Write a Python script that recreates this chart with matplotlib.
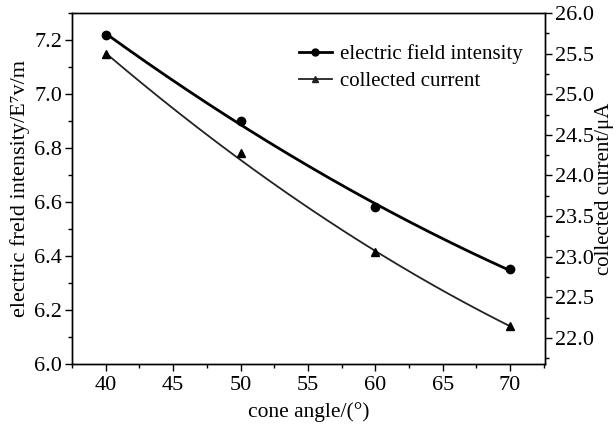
import numpy as np
import matplotlib.pyplot as plt
from matplotlib.ticker import MultipleLocator

plt.rcParams['font.family'] = ['Liberation Serif', 'DejaVu Serif']

angle = [40, 50, 60, 70]
field = [7.22, 6.90, 6.58, 6.35]
current = [25.50, 24.28, 23.06, 22.15]

fig = plt.figure(figsize=(6.16, 4.24), dpi=100)
ax = fig.add_axes([0.117, 0.142, 0.768, 0.827])
ax2 = ax.twinx()

# smooth curves through the points
xs = np.linspace(40, 70, 200)
cf = np.polyfit(angle, field, 2)
cc = np.polyfit(angle, current, 2, w=[2, 1, 3, 2])

ax.plot(xs, np.polyval(cf, xs), color='black', lw=2)
ax.plot(angle, field, 'o', color='black', ms=6)
ax2.plot(xs, np.polyval(cc, xs), color='#222222', lw=1.3)
ax2.plot(angle, current, '^', color='black', ms=6)

# legend proxies
h1, = ax.plot([], [], '-o', color='black', lw=2, ms=5, label='electric field intensity')
h2, = ax.plot([], [], '-^', color='#222222', lw=1.3, ms=5, label='collected current')
ax.legend(handles=[h1, h2], loc='upper right', bbox_to_anchor=(0.993, 0.965),
          frameon=False, fontsize=15, handlelength=1.6, handletextpad=0.4,
          labelspacing=0.35)

ax.set_xlim(37.5, 72.6)
ax.set_ylim(6.0, 7.3)
ax2.set_ylim(21.68, 26.0)

ax.xaxis.set_major_locator(MultipleLocator(5))
ax.xaxis.set_minor_locator(MultipleLocator(2.5))
ax.yaxis.set_major_locator(MultipleLocator(0.2))
ax.yaxis.set_minor_locator(MultipleLocator(0.1))
ax2.yaxis.set_major_locator(MultipleLocator(0.5))
ax2.yaxis.set_minor_locator(MultipleLocator(0.25))
ax.yaxis.set_major_formatter(plt.FormatStrFormatter('%.1f'))
ax2.yaxis.set_major_formatter(plt.FormatStrFormatter('%.1f'))

for a in (ax, ax2):
    a.tick_params(which='major', direction='out', length=5, width=1,
                  labelsize=16, pad=2)
    a.tick_params(which='minor', direction='out', length=3, width=1)
    for s in a.spines.values():
        s.set_linewidth(1)
ax.tick_params(top=False, which='both')
ax.tick_params(axis='x', pad=4)

ax.set_xlabel('cone angle/(°)', fontsize=15.5, labelpad=5)
ax.set_ylabel('electric freld intensity/E\u2077v/m', fontsize=16, labelpad=3)
ax2.set_ylabel('collected current/μA', fontsize=15, labelpad=1)

fig.savefig('out.png', dpi=100)
